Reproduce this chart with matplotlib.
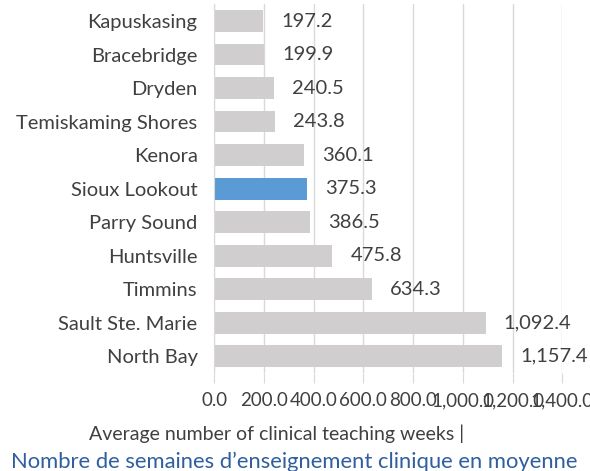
import matplotlib.pyplot as plt

# data
cities = ['Kapuskasing', 'Bracebridge', 'Dryden', 'Temiskaming Shores', 'Kenora',
          'Sioux Lookout', 'Parry Sound', 'Huntsville', 'Timmins', 'Sault Ste. Marie',
          'North Bay']
weeks = [197.2, 199.9, 240.5, 243.8, 360.1, 375.3, 386.5, 475.8, 634.3, 1092.4, 1157.4]
highlight = 'Sioux Lookout'
xticks = [0, 200, 400, 600, 800, 1000, 1200, 1400]

plt.rcParams['font.family'] = ['Lato', 'DejaVu Sans']
txt = '#404040'

fig = plt.figure(figsize=(5.9, 4.71), dpi=100)
ax = fig.add_axes([0.363, 0.208, 0.590, 0.783])

colors = ['#5b9bd5' if c == highlight else '#d0cece' for c in cities]
pos = list(range(len(cities)))
ax.barh(pos, weeks, height=0.65, color=colors, zorder=2)
ax.set_ylim(len(cities) - 0.5, -0.5)
ax.set_xlim(0, 1400)

for p, v in zip(pos, weeks):
    ax.annotate(f'{v:,.1f}', (v, p), xytext=(13, 0), textcoords='offset points',
                va='center', ha='left', fontsize=14.5, color=txt)

ax.set_yticks(pos)
ax.set_yticklabels(cities, fontsize=14.5, color=txt)
ax.tick_params(axis='y', length=0, pad=12)

ax.set_xticks(xticks)
ax.set_xticklabels([f'{t:,.1f}' for t in xticks], fontsize=13.5, color=txt)
ax.tick_params(axis='x', length=7, color='#d9d9d9', pad=7)
ax.xaxis.grid(True, color='#d9d9d9', linewidth=1, zorder=0)

for s in ['top', 'right', 'bottom']:
    ax.spines[s].set_visible(False)
ax.spines['left'].set_color('#d9d9d9')

fig.text(0.468, 0.080, 'Average number of clinical teaching weeks |',
         ha='center', va='center', fontsize=14, color=txt)
fig.text(0.498, 0.020, 'Nombre de semaines d\u2019enseignement clinique en moyenne',
         ha='center', va='center', fontsize=15.8, color='#2f5f9e')

fig.savefig('out.png', dpi=100)
